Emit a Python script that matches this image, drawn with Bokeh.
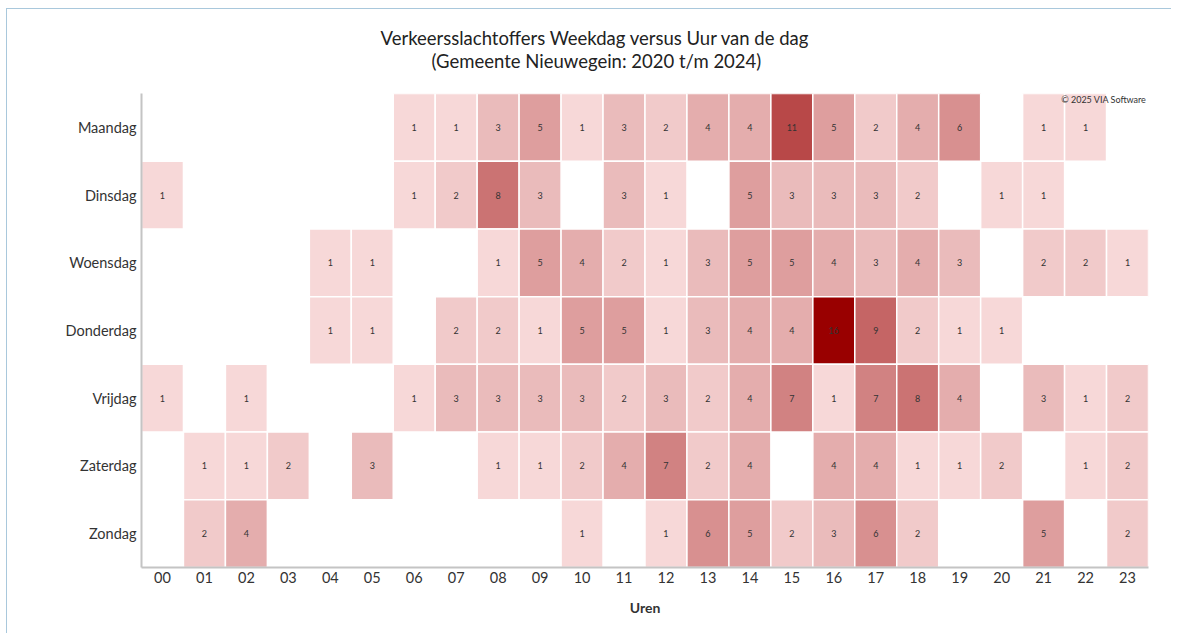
from bokeh.plotting import figure
from bokeh.models import ColumnDataSource, LinearColorMapper, Label, FactorRange, Title
from bokeh.embed import file_html
from bokeh.resources import INLINE
from bokeh.core.properties import value

days = ["Maandag", "Dinsdag", "Woensdag", "Donderdag", "Vrijdag", "Zaterdag", "Zondag"]
hours = ["00", "01", "02", "03", "04", "05", "06", "07", "08", "09", "10", "11",
         "12", "13", "14", "15", "16", "17", "18", "19", "20", "21", "22", "23"]

maandag = [0, 0, 0, 0, 0, 0, 1, 1, 3, 5, 1, 3, 2, 4, 4, 11, 5, 2, 4, 6, 0, 1, 1, 0]
dinsdag = [1, 0, 0, 0, 0, 0, 1, 2, 8, 3, 0, 3, 1, 0, 5, 3, 3, 3, 2, 0, 1, 1, 0, 0]
woensdag = [0, 0, 0, 0, 1, 1, 0, 0, 1, 5, 4, 2, 1, 3, 5, 5, 4, 3, 4, 3, 0, 2, 2, 1]
donderdag = [0, 0, 0, 0, 1, 1, 0, 2, 2, 1, 5, 5, 1, 3, 4, 4, 16, 9, 2, 1, 1, 0, 0, 0]
vrijdag = [1, 0, 1, 0, 0, 0, 1, 3, 3, 3, 3, 2, 3, 2, 4, 7, 1, 7, 8, 4, 0, 3, 1, 2]
zaterdag = [0, 1, 1, 2, 0, 3, 0, 0, 1, 1, 2, 4, 7, 2, 4, 0, 4, 4, 1, 1, 2, 0, 1, 2]
zondag = [0, 2, 4, 0, 0, 0, 0, 0, 0, 0, 1, 0, 1, 6, 5, 2, 3, 6, 2, 0, 0, 5, 0, 2]

title_line1 = "Verkeersslachtoffers Weekdag versus Uur van de dag"
title_line2 = "(Gemeente Nieuwegein: 2020 t/m 2024)"
credit = "\u00a9 2025 VIA Software"
x_title = "Uren"

rows = [maandag, dinsdag, woensdag, donderdag, vrijdag, zaterdag, zondag]
xs, ys, vs, ts = [], [], [], []
for day, row in zip(days, rows):
    for h, v in zip(hours, row):
        if v > 0:
            xs.append(h)
            ys.append(day)
            vs.append(v)
            ts.append(str(v))
src = ColumnDataSource(dict(x=xs, y=ys, v=vs, t=ts))

# colour ramp from light pink (value 1) to dark red (value 16)
c0 = (247, 216, 216)
c1 = (153, 0, 0)
n = 256
palette = ["#%02x%02x%02x" % tuple(round(a + (b - a) * i / (n - 1)) for a, b in zip(c0, c1))
           for i in range(n)]
mapper = LinearColorMapper(palette=palette, low=1, high=16)

FONT = "Lato"
W, H = 1165, 625
p = figure(width=W, height=H, output_backend="svg", toolbar_location=None,
           x_range=FactorRange(factors=hours, range_padding=0),
           y_range=FactorRange(factors=list(reversed(days)), range_padding=0),
           min_border_left=134, min_border_right=24, min_border_top=84, min_border_bottom=67)
p.styles = {"border-left": "1px solid #a9c8dc", "border-top": "1px solid #a9c8dc",
            "margin-left": "6px", "margin-top": "8px"}

p.rect(x="x", y="y", width=1, height=1, source=src,
       fill_color={"field": "v", "transform": mapper},
       line_color="white", line_width=1.5)
p.text(x="x", y="y", text="t", source=src, text_align="center", text_baseline="middle",
       text_font=value(FONT), text_font_size="9px", text_color="#333333")

p.grid.visible = False
p.outline_line_color = None
p.background_fill_color = "white"
p.border_fill_color = "white"

for ax in (p.xaxis[0], p.yaxis[0]):
    ax.axis_line_color = "#c4c4c4"
    ax.axis_line_width = 2
    ax.major_tick_line_color = None
    ax.minor_tick_line_color = None
    ax.major_label_text_font = FONT
    ax.major_label_text_font_size = "14.5px"
    ax.major_label_text_color = "#333333"
p.yaxis.major_label_standoff = -1
p.xaxis.major_label_standoff = -2
p.xaxis.axis_label = x_title
p.xaxis.axis_label_text_font = FONT
p.xaxis.axis_label_text_font_size = "14px"
p.xaxis.axis_label_text_font_style = "bold"
p.xaxis.axis_label_text_color = "#333333"
p.xaxis.axis_label_standoff = 13

p.add_layout(Title(text=title_line2, align="left", offset=290, standoff=44,
                   text_font=FONT, text_font_size="18.5px", text_font_style="normal",
                   text_color="#222222"), "above")
p.add_layout(Title(text=title_line1, align="left", offset=239, standoff=-47,
                   text_font=FONT, text_font_size="18.5px", text_font_style="normal",
                   text_color="#222222"), "above")

# credit placed in the factor ranges' coordinates (0..24, 0..7), just inside the frame top-right
px_x = (1148 - 141) / 24.0
px_y = (567 - 93) / 7.0
p.add_layout(Label(x=24 - 2 / px_x, y=7 - 6 / px_y, text=credit, text_align="right",
                   text_baseline="middle", text_font=FONT, text_font_size="9px",
                   text_color="#333333"))

open("out.html", "w").write(file_html(p, INLINE))
